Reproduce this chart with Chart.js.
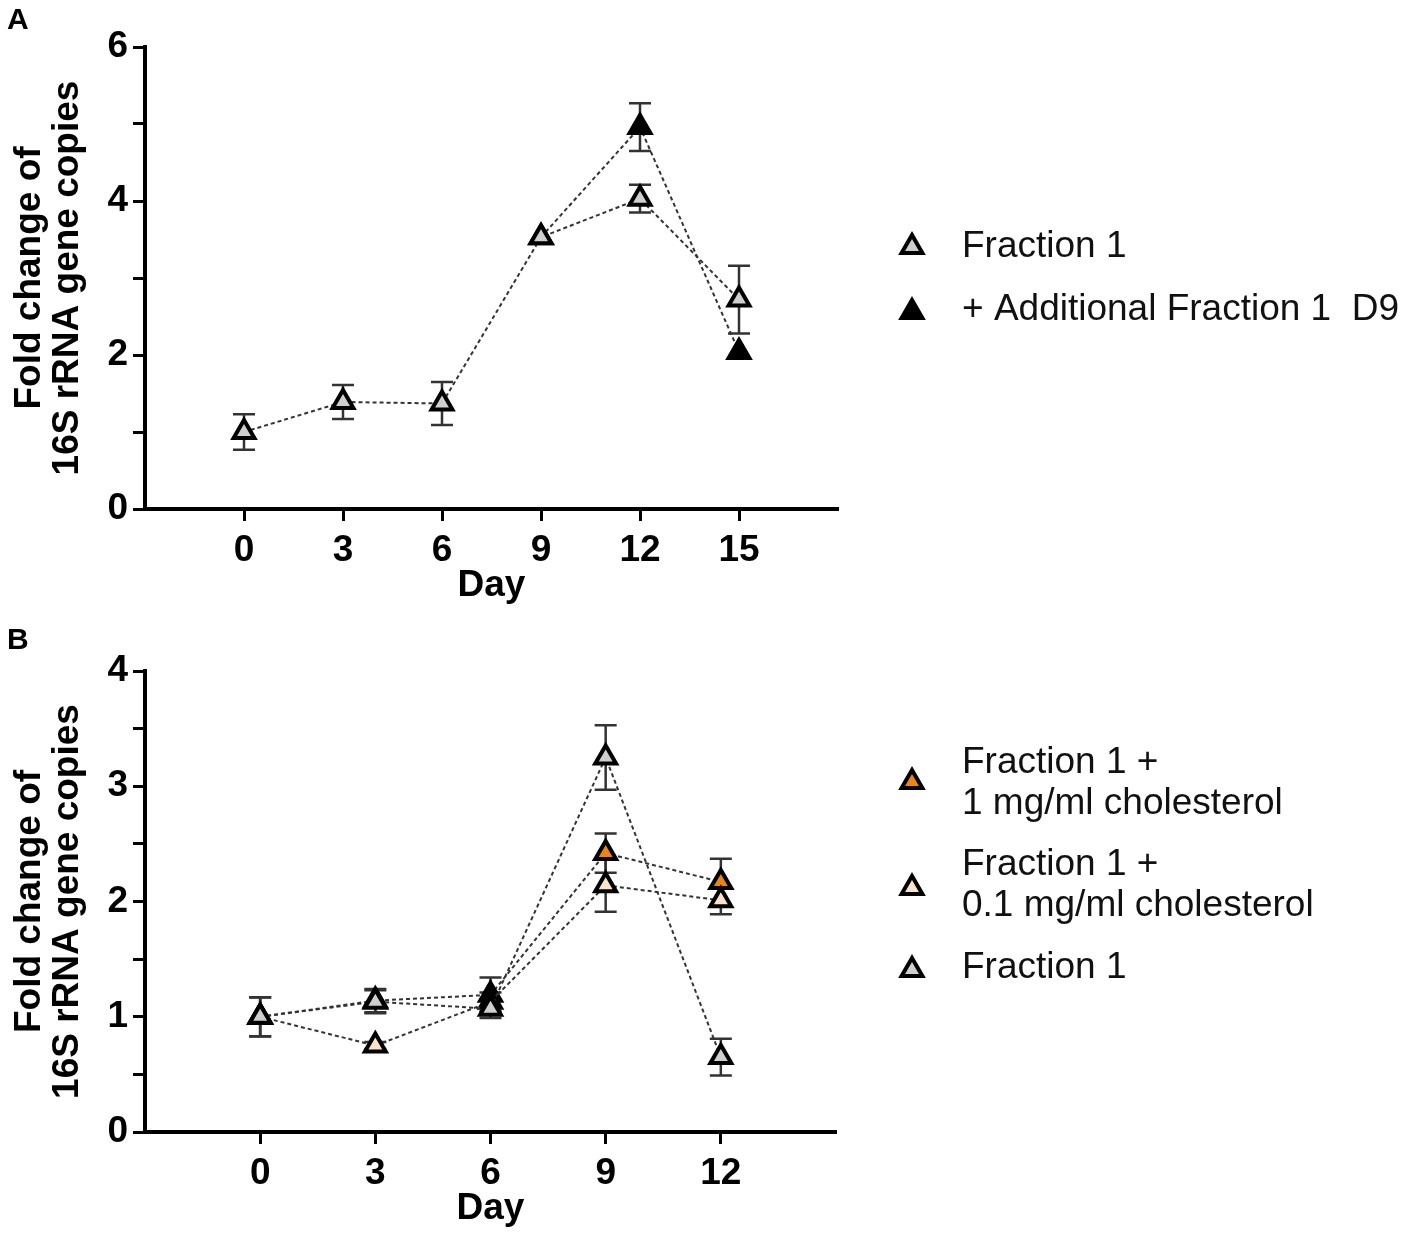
<!DOCTYPE html>
<html>
<head>
<meta charset="utf-8">
<script src="https://cdn.jsdelivr.net/npm/chart.js@4.4.1/dist/chart.umd.min.js"></script>
<style>
  body { margin: 0; background: #fff; }
  .panel { position: relative; width: 1419px; }
</style>
</head>
<body>
<div class="panel" style="height:620px"><canvas id="chartA"></canvas></div>
<div class="panel" style="height:615px"><canvas id="chartB"></canvas></div>
<script>
// Panel A data
const daysA = [0, 3, 6, 9, 12, 15];
const fraction1A = [1.0, 1.39, 1.37, 3.53, 4.03, 2.72];
const fraction1AErr = [0.23, 0.22, 0.28, 0, 0.18, 0.44];
const daysAddA = [9, 12, 15];
const additionalA = [3.53, 4.96, 2.04];
const additionalAErr = [0, 0.31, 0];
const xTicksA = [0, 3, 6, 9, 12, 15];

// Panel B data
const daysB = [0, 3, 6, 9, 12];
const chol1B = [1.0, 1.14, 1.19, 2.42, 2.17];
const chol1BErr = [0.17, 0.1, 0.15, 0.17, 0.2];
const chol01B = [1.0, 0.75, 1.13, 2.14, 2.01];
const chol01BErr = [0.17, 0.03, 0.08, 0.23, 0.12];
const fraction1B = [1.0, 1.13, 1.07, 3.25, 0.65];
const fraction1BErr = [0.17, 0.1, 0.08, 0.28, 0.16];
const xTicksB = [0, 3, 6, 9, 12];

const FONT = "'Liberation Sans', Arial, sans-serif";

function pts(xs, ys) {
  return xs.map((x, i) => ({ x: x, y: ys[i] }));
}

function triangle(ctx, x, y, r, fill) {
  ctx.save();
  ctx.beginPath();
  for (let k = 0; k < 3; k++) {
    const a = k * 2 * Math.PI / 3;
    const px = x + Math.sin(a) * r, py = y - Math.cos(a) * r;
    if (k === 0) ctx.moveTo(px, py); else ctx.lineTo(px, py);
  }
  ctx.closePath();
  ctx.fillStyle = fill;
  ctx.fill();
  ctx.lineWidth = 4;
  ctx.strokeStyle = '#000';
  ctx.stroke();
  ctx.restore();
}

// error bars drawn under the markers
const errorBars = {
  id: 'errorBars',
  beforeDatasetsDraw(chart, args, opts) {
    const { ctx, scales: { x, y } } = chart;
    ctx.save();
    ctx.strokeStyle = '#333';
    ctx.lineWidth = 2.5;
    chart.data.datasets.forEach((ds, i) => {
      const errs = opts.errors[i];
      if (!errs) return;
      ds.data.forEach((p, j) => {
        const e = errs[j];
        if (!e) return;
        const px = x.getPixelForValue(p.x);
        const top = y.getPixelForValue(p.y + e);
        const bot = y.getPixelForValue(p.y - e);
        ctx.beginPath();
        ctx.moveTo(px, top); ctx.lineTo(px, bot);
        ctx.moveTo(px - 11, top); ctx.lineTo(px + 11, top);
        ctx.moveTo(px - 11, bot); ctx.lineTo(px + 11, bot);
        ctx.stroke();
      });
    });
    ctx.restore();
  }
};

// legend on the right + panel letter
const sideLegend = {
  id: 'sideLegend',
  afterDraw(chart, args, opts) {
    const ctx = chart.ctx;
    ctx.save();
    ctx.fillStyle = '#000';
    ctx.font = 'bold 30px ' + FONT;
    ctx.textBaseline = 'alphabetic';
    ctx.fillText(opts.letter, 7, 29);
    ctx.font = '37px ' + FONT;
    ctx.textBaseline = 'middle';
    opts.items.forEach(it => {
      triangle(ctx, 912, it.y, 12, it.fill);
      it.lines.forEach((t, k) => {
        ctx.fillStyle = '#111';
        ctx.fillText(t, 962, it.textY + k * 41);
      });
    });
    ctx.restore();
  }
};

function series(label, xs, ys, fill) {
  return {
    label: label,
    data: pts(xs, ys),
    showLine: true,
    borderColor: '#333',
    borderWidth: 2,
    borderDash: [4, 3],
    pointStyle: 'triangle',
    pointRadius: 12,
    pointHoverRadius: 12,
    pointBorderWidth: 4,
    pointBorderColor: '#000',
    pointBackgroundColor: fill
  };
}

function makeOptions(cfg) {
  return {
    responsive: true,
    maintainAspectRatio: false,
    animation: false,
    events: [],
    layout: { padding: { left: 0, top: cfg.top, right: cfg.right, bottom: 0 } },
    plugins: {
      legend: { display: false },
      tooltip: { enabled: false },
      errorBars: { errors: cfg.errors },
      sideLegend: { letter: cfg.letter, items: cfg.items }
    },
    scales: {
      x: {
        type: 'linear',
        min: -3,
        max: cfg.xMax,
        afterBuildTicks: s => { s.ticks = cfg.xTicks.map(v => ({ value: v })); },
        afterFit: s => { s.height = cfg.xHeight; },
        ticks: {
          color: '#000',
          padding: 8,
          maxRotation: 0,
          font: { family: FONT, size: 37, weight: 'bold' }
        },
        grid: { drawOnChartArea: false, drawTicks: true, tickLength: 12, tickWidth: 3, tickColor: '#000' },
        border: { display: true, width: 4, color: '#000' },
        title: {
          display: true,
          text: 'Day',
          color: '#000',
          padding: { top: 0, bottom: cfg.dayPad },
          font: { family: FONT, size: 37, weight: 'bold', lineHeight: 1 }
        }
      },
      y: {
        min: 0,
        max: cfg.yMax,
        afterFit: s => { s.width = 145; },
        ticks: {
          stepSize: cfg.yStep,
          color: '#000',
          padding: 5,
          font: { family: FONT, size: 37, weight: 'bold' },
          callback: cfg.yLabel
        },
        grid: { drawOnChartArea: false, drawTicks: true, tickLength: 12, tickWidth: 3, tickColor: '#000' },
        border: { display: true, width: 4, color: '#000' },
        title: {
          display: true,
          text: ['Fold change of', '16S rRNA gene copies'],
          color: '#000',
          padding: { top: 11, bottom: 0 },
          font: { family: FONT, size: 37, weight: 'bold', lineHeight: 1.03 }
        }
      }
    }
  };
}

new Chart(document.getElementById('chartA'), {
  type: 'scatter',
  data: {
    datasets: [
      series('Fraction 1', daysA, fraction1A, '#cfcfcf'),
      series('+ Additional Fraction 1  D9', daysAddA, additionalA, '#000')
    ]
  },
  options: makeOptions({
    top: 47, right: 581, xMax: 18, xTicks: xTicksA, xHeight: 111, dayPad: 16,
    yMax: 6, yStep: 1, yLabel: v => (v % 2 === 0 ? v : ''),
    errors: [fraction1AErr, additionalAErr],
    letter: 'A',
    items: [
      { fill: '#cfcfcf', y: 247, textY: 247, lines: ['Fraction 1'] },
      { fill: '#000', y: 312, textY: 310, lines: ['+ Additional Fraction 1  D9'] }
    ]
  }),
  plugins: [errorBars, sideLegend]
});

new Chart(document.getElementById('chartB'), {
  type: 'scatter',
  data: {
    datasets: [
      series('Fraction 1', daysB, fraction1B, '#cfcfcf'),
      series('Fraction 1 + 0.1 mg/ml cholesterol', daysB, chol01B, '#fbe3c8'),
      series('Fraction 1 + 1 mg/ml cholesterol', daysB, chol1B, '#ee8411')
    ]
  },
  options: makeOptions({
    top: 51, right: 583, xMax: 15, xTicks: xTicksB, xHeight: 103, dayPad: 8,
    yMax: 4, yStep: 0.5, yLabel: v => (Number.isInteger(v) ? v : ''),
    errors: [fraction1BErr, chol01BErr, chol1BErr],
    letter: 'B',
    items: [
      { fill: '#ee8411', y: 162, textY: 143, lines: ['Fraction 1 +', '1 mg/ml cholesterol'] },
      { fill: '#fbe3c8', y: 268, textY: 245, lines: ['Fraction 1 +', '0.1 mg/ml cholesterol'] },
      { fill: '#cfcfcf', y: 350, textY: 348, lines: ['Fraction 1'] }
    ]
  }),
  plugins: [errorBars, sideLegend]
});
</script>
</body>
</html>
